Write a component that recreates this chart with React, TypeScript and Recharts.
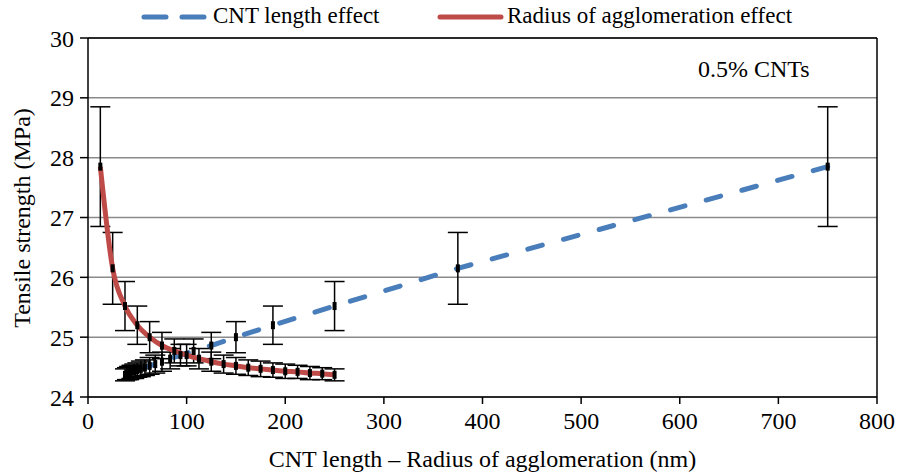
import React from 'react';
import {
    ComposedChart,
    Line,
    XAxis,
    YAxis,
    CartesianGrid,
    ErrorBar,
    ReferenceLine,
    Label,
} from 'recharts';

// CNT length series (nm) and radius of agglomeration series (nm)
const cntLength = [750, 375, 250, 187.5, 150, 125, 107.1, 93.75, 83.3, 75, 68.2, 62.5, 57.7, 53.6, 50, 46.9, 44.1, 41.7, 39.5, 37.5];
const aggRadius = [12.5, 25, 37.5, 50, 62.5, 75, 87.5, 100, 112.5, 125, 137.5, 150, 162.5, 175, 187.5, 200, 212.5, 225, 237.5, 250];
// tensile strength (MPa) read for each point, same for both series
const strength = [27.85, 26.15, 25.52, 25.2, 25.0, 24.86, 24.77, 24.7, 24.64, 24.59, 24.55, 24.52, 24.49, 24.47, 24.45, 24.43, 24.42, 24.4, 24.39, 24.37];
const strengthErr = [1.0, 0.6, 0.41, 0.32, 0.26, 0.22, 0.2, 0.18, 0.17, 0.16, 0.15, 0.14, 0.13, 0.13, 0.12, 0.12, 0.11, 0.11, 0.1, 0.1];

const xTicks = [0, 100, 200, 300, 400, 500, 600, 700, 800];
const yTicks = [24, 25, 26, 27, 28, 29, 30];

const lengthData = cntLength.map((x, i) => ({ x, y: strength[i], err: strengthErr[i] }));
const radiusData = aggRadius.map((x, i) => ({ x, y: strength[i], err: strengthErr[i] }));

const FONT = 'Liberation Serif, DejaVu Serif, serif';
const BLUE = '#4a7ebb';
const RED = '#be4b48';

const Marker = (props: any) => {
    const { cx, cy } = props;
    if (cx == null || cy == null) return null;
    return <rect x={cx - 2} y={cy - 4} width={4} height={8} fill="#000" />;
};

export default function App() {
    const tickStyle = { fontFamily: FONT, fontSize: 24, fill: '#000' };
    return (
        <div style={{ position: 'absolute', left: 0, top: 0, width: 907, height: 475, background: '#fff', fontFamily: FONT, WebkitFontSmoothing: 'antialiased' }}>
            <ComposedChart
                width={907}
                height={475}
                margin={{ top: 38, right: 30, left: 28, bottom: 8 }}
                style={{ fontFamily: FONT }}
            >
                <CartesianGrid vertical={false} stroke="#8a8a8a" strokeWidth={1.5} />
                <XAxis
                    type="number"
                    dataKey="x"
                    domain={[0, 800]}
                    ticks={xTicks}
                    height={70}
                    tickSize={7}
                    tickMargin={8}
                    stroke="#000"
                    strokeWidth={1.5}
                    tick={tickStyle}
                >
                    <Label
                        value="CNT length – Radius of agglomeration (nm)"
                        position="insideBottom"
                        offset={0}
                        fill="#000"
                        style={{ fontFamily: FONT, fontSize: 24, fill: '#000' }}
                    />
                </XAxis>
                <YAxis
                    type="number"
                    domain={[24, 30]}
                    ticks={yTicks}
                    width={60}
                    tickSize={8}
                    tickMargin={6}
                    stroke="#000"
                    strokeWidth={1.5}
                    tick={tickStyle}
                />
                <ReferenceLine y={30} stroke="#000" strokeWidth={1.5} />
                <ReferenceLine x={800} stroke="#000" strokeWidth={1.5} />
                <Line
                    data={lengthData}
                    dataKey="y"
                    type="linear"
                    stroke={BLUE}
                    strokeWidth={5}
                    strokeDasharray="15 22"
                    strokeLinecap="round"
                    dot={<Marker />}
                    activeDot={false}
                    isAnimationActive={false}
                >
                    <ErrorBar dataKey="err" direction="y" width={10} stroke="#000" strokeWidth={1.5} />
                </Line>
                <Line
                    data={radiusData}
                    dataKey="y"
                    type="monotone"
                    stroke={RED}
                    strokeWidth={5}
                    dot={<Marker />}
                    activeDot={false}
                    isAnimationActive={false}
                >
                    <ErrorBar dataKey="err" direction="y" width={10} stroke="#000" strokeWidth={1.5} />
                </Line>
            </ComposedChart>

            {/* y axis title */}
            <div style={{ position: 'absolute', left: 22, top: 218, width: 0, height: 0 }}>
                <div style={{ position: 'absolute', left: 0, top: 0, transform: 'translate(-50%, -50%) rotate(-90deg)', fontSize: 24, color: '#000', whiteSpace: 'nowrap' }}>
                    Tensile strength (MPa)
                </div>
            </div>

            {/* legend */}
            <div style={{ position: 'absolute', top: 0, left: 0, width: 907, height: 36, fontSize: 23 }}>
                <svg style={{ position: 'absolute', left: 140, top: 12 }} width={68} height={10}>
                    <line x1={4} y1={5} x2={64} y2={5} stroke={BLUE} strokeWidth={5} strokeDasharray="22 16" strokeLinecap="round" />
                </svg>
                <span style={{ position: 'absolute', left: 213, top: 3, whiteSpace: 'nowrap' }}>CNT length effect</span>
                <svg style={{ position: 'absolute', left: 437, top: 12 }} width={68} height={10}>
                    <line x1={3} y1={5} x2={64} y2={5} stroke={RED} strokeWidth={5} strokeLinecap="round" />
                </svg>
                <span style={{ position: 'absolute', left: 507, top: 3, whiteSpace: 'nowrap' }}>Radius of agglomeration effect</span>
            </div>

            {/* annotation */}
            <div style={{ position: 'absolute', left: 698, top: 56, fontSize: 24, whiteSpace: 'nowrap' }}>
                0.5% CNTs
            </div>
        </div>
    );
}
